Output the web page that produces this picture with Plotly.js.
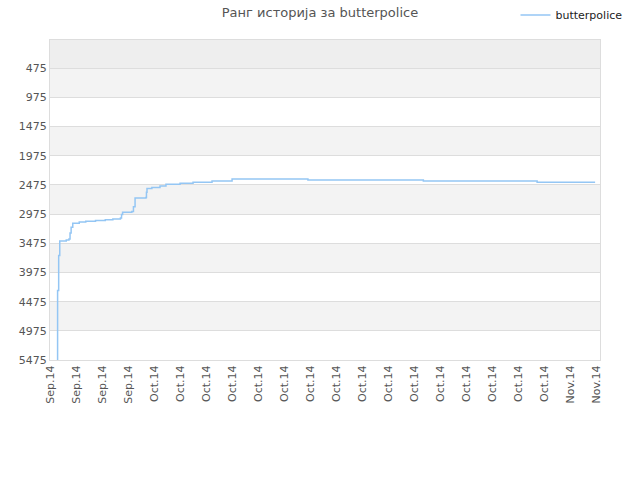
<!DOCTYPE html>
<html>
<head>
<meta charset="utf-8">
<script src="https://cdn.plot.ly/plotly-3.0.1.min.js"></script>
<style>
  html, body { margin:0; padding:0; background:#fff; }
  #chart { width:640px; height:480px; }
</style>
</head>
<body>
<div id="chart"></div>
<script>
// rank history (lower = better)
const playerName = "butterpolice";
const dates = [
  "2014-09-23 13:00", "2014-09-23 14:00", "2014-09-23 16:00", "2014-09-23 18:00",
  "2014-09-24 06:00", "2014-09-24 11:00", "2014-09-24 13:00", "2014-09-24 15:00",
  "2014-09-24 18:00", "2014-09-25 06:00", "2014-09-25 18:00", "2014-09-26 12:00",
  "2014-09-27 06:00", "2014-09-27 20:00", "2014-09-28 10:00", "2014-09-28 12:00",
  "2014-09-28 14:00", "2014-09-29 07:00", "2014-09-29 10:00", "2014-09-29 13:00",
  "2014-09-30 09:00", "2014-09-30 10:00", "2014-09-30 11:00", "2014-09-30 20:00",
  "2014-10-01 11:00", "2014-10-01 22:00", "2014-10-03 00:00", "2014-10-04 00:00",
  "2014-10-05 11:00", "2014-10-07 00:00", "2014-10-12 20:00", "2014-10-21 17:00",
  "2014-10-30 11:00", "2014-11-03 22:00"
];
const ranks = [
  6500, 4284, 3683, 3437,
  3420, 3400, 3300, 3200,
  3133, 3110, 3095, 3085,
  3070, 3060, 3042, 2980,
  2944, 2930, 2850, 2698,
  2690, 2600, 2537, 2520,
  2492, 2463, 2446, 2428,
  2406, 2372, 2389, 2406,
  2428, 2428
];
const yTicks = [475, 975, 1475, 1975, 2475, 2975, 3475, 3975, 4475, 4975, 5475];
const yTop = -10;

const C_LINE = "#94c6f4";
const C_GRID = "#dddddd";
const C_TEXT = "#555555";

// alternating background bands between the gridlines
const bands = [{
  type:"rect", xref:"paper", yref:"y", x0:0, x1:1, y0:yTop, y1:yTicks[0],
  fillcolor:"#eeeeee", line:{width:0}, layer:"below"
}];
for (let i = 0; i < yTicks.length - 1; i += 2) {
  bands.push({
    type:"rect", xref:"paper", yref:"y", x0:0, x1:1, y0:yTicks[i], y1:yTicks[i+1],
    fillcolor:"#f3f3f3", line:{width:0}, layer:"below"
  });
}

const trace = {
  x: dates, y: ranks, name: playerName, type:"scatter", mode:"lines",
  line:{color:C_LINE, width:1.5, shape:"hv"}
};

const layout = {
  width:640, height:480,
  margin:{l:50, r:40, t:40, b:120, autoexpand:false},
  paper_bgcolor:"#ffffff", plot_bgcolor:"#ffffff",
  font:{family:"DejaVu Sans, sans-serif", size:11, color:C_TEXT},
  title:{text:"Ранг историја за " + playerName, x:0.5, xanchor:"center",
         y:0.975, yanchor:"middle", font:{size:13, color:C_TEXT}},
  showlegend:true,
  legend:{x:1.05, xanchor:"right", y:1.078, yanchor:"middle", itemwidth:30,
          font:{size:11, color:"#222"}, bgcolor:"rgba(0,0,0,0)"},
  xaxis:{
    type:"date", range:["2014-09-23 00:00", "2014-11-04 07:00"],
    tick0:"2014-09-23", dtick:2*86400000, tickformat:"%b.%y",
    tickangle:-90, showgrid:false, zeroline:false,
    showline:true, mirror:true, linecolor:C_GRID, linewidth:1,
    ticks:"", tickfont:{size:11, color:C_TEXT}
  },
  yaxis:{
    range:[yTicks[yTicks.length-1], yTop],
    tickmode:"array", tickvals:yTicks, ticktext:yTicks.map(String),
    showgrid:true, gridcolor:C_GRID, zeroline:false,
    showline:true, mirror:true, linecolor:C_GRID, linewidth:1,
    ticks:"", tickfont:{size:11, color:C_TEXT}
  },
  shapes:bands
};

Plotly.newPlot("chart", [trace], layout, {displayModeBar:false, staticPlot:true});
</script>
</body>
</html>
